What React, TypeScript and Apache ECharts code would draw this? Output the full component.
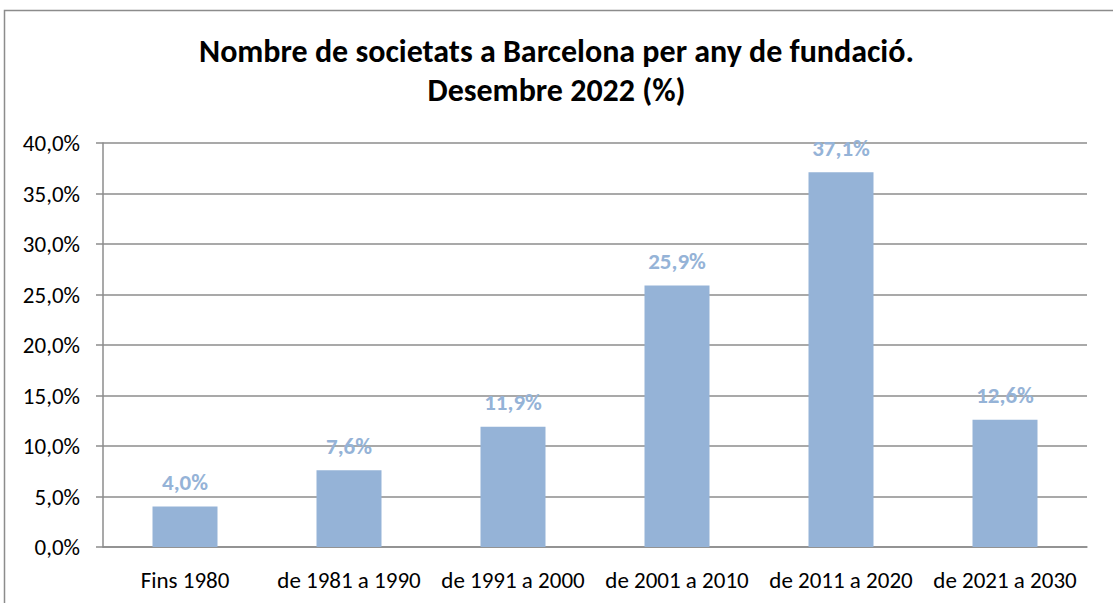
import React, { useEffect, useRef } from "react";
import * as echarts from "echarts";

const titleLines = [
  "Nombre de societats a Barcelona per any de fundació.",
  "Desembre 2022 (%)",
];
const categories = [
  "Fins 1980",
  "de 1981 a 1990",
  "de 1991 a 2000",
  "de 2001 a 2010",
  "de 2011 a 2020",
  "de 2021 a 2030",
];
const values = [4.0, 7.6, 11.9, 25.9, 37.1, 12.6];

const FONT = "Carlito, Lato, 'Open Sans', sans-serif";
const fmt = (v: number) => v.toFixed(1).replace(".", ",") + "%";

export default function App() {
  const ref = useRef<HTMLDivElement>(null);
  useEffect(() => {
    if (!ref.current) return;
    const chart = echarts.init(ref.current, undefined, { renderer: "svg" });
    chart.setOption({
      animation: false,
      backgroundColor: "#ffffff",
      title: {
        text: titleLines.join("\n"),
        left: "center",
        top: 27,
        textStyle: {
          fontFamily: FONT,
          fontWeight: "bold",
          fontSize: 32,
          lineHeight: 39,
          color: "#000000",
        },
      },
      graphic: [
        {
          type: "rect",
          shape: { x: 4.5, y: 10.5, width: 1300, height: 800 },
          style: { fill: "none", stroke: "#8c8c8c", lineWidth: 1.5 },
          silent: true,
        },
      ],
      grid: { left: 103, right: 26, top: 143, bottom: 56 },
      xAxis: {
        type: "category",
        data: categories,
        axisLine: { lineStyle: { color: "#8c8c8c", width: 1.5 } },
        axisTick: { length: 8, lineStyle: { color: "#8c8c8c", width: 1.5 } },
        axisLabel: {
          color: "#000000",
          fontFamily: FONT,
          fontSize: 23,
          margin: 21,
          interval: 0,
        },
      },
      yAxis: {
        type: "value",
        min: 0,
        max: 40,
        interval: 5,
        axisLine: { show: true, lineStyle: { color: "#8c8c8c", width: 1.5 } },
        axisTick: { show: true, length: 7, lineStyle: { color: "#8c8c8c", width: 1.5 } },
        splitLine: { lineStyle: { color: "#8c8c8c", width: 1.5 } },
        axisLabel: {
          color: "#000000",
          fontFamily: FONT,
          fontSize: 23,
          margin: 23,
          formatter: (v: number) => fmt(v),
        },
      },
      series: [
        {
          type: "bar",
          data: values,
          barWidth: 65,
          itemStyle: { color: "#95b3d7" },
          label: {
            show: true,
            position: "top",
            distance: 13,
            color: "#95b3d7",
            fontFamily: FONT,
            fontWeight: "bold",
            fontSize: 23,
            formatter: (p: any) => fmt(p.value),
          },
        },
      ],
    });
    return () => chart.dispose();
  }, []);
  return (
    <div
      ref={ref}
      style={{ position: "fixed", left: 0, top: 0, width: 1113, height: 603 }}
    />
  );
}
